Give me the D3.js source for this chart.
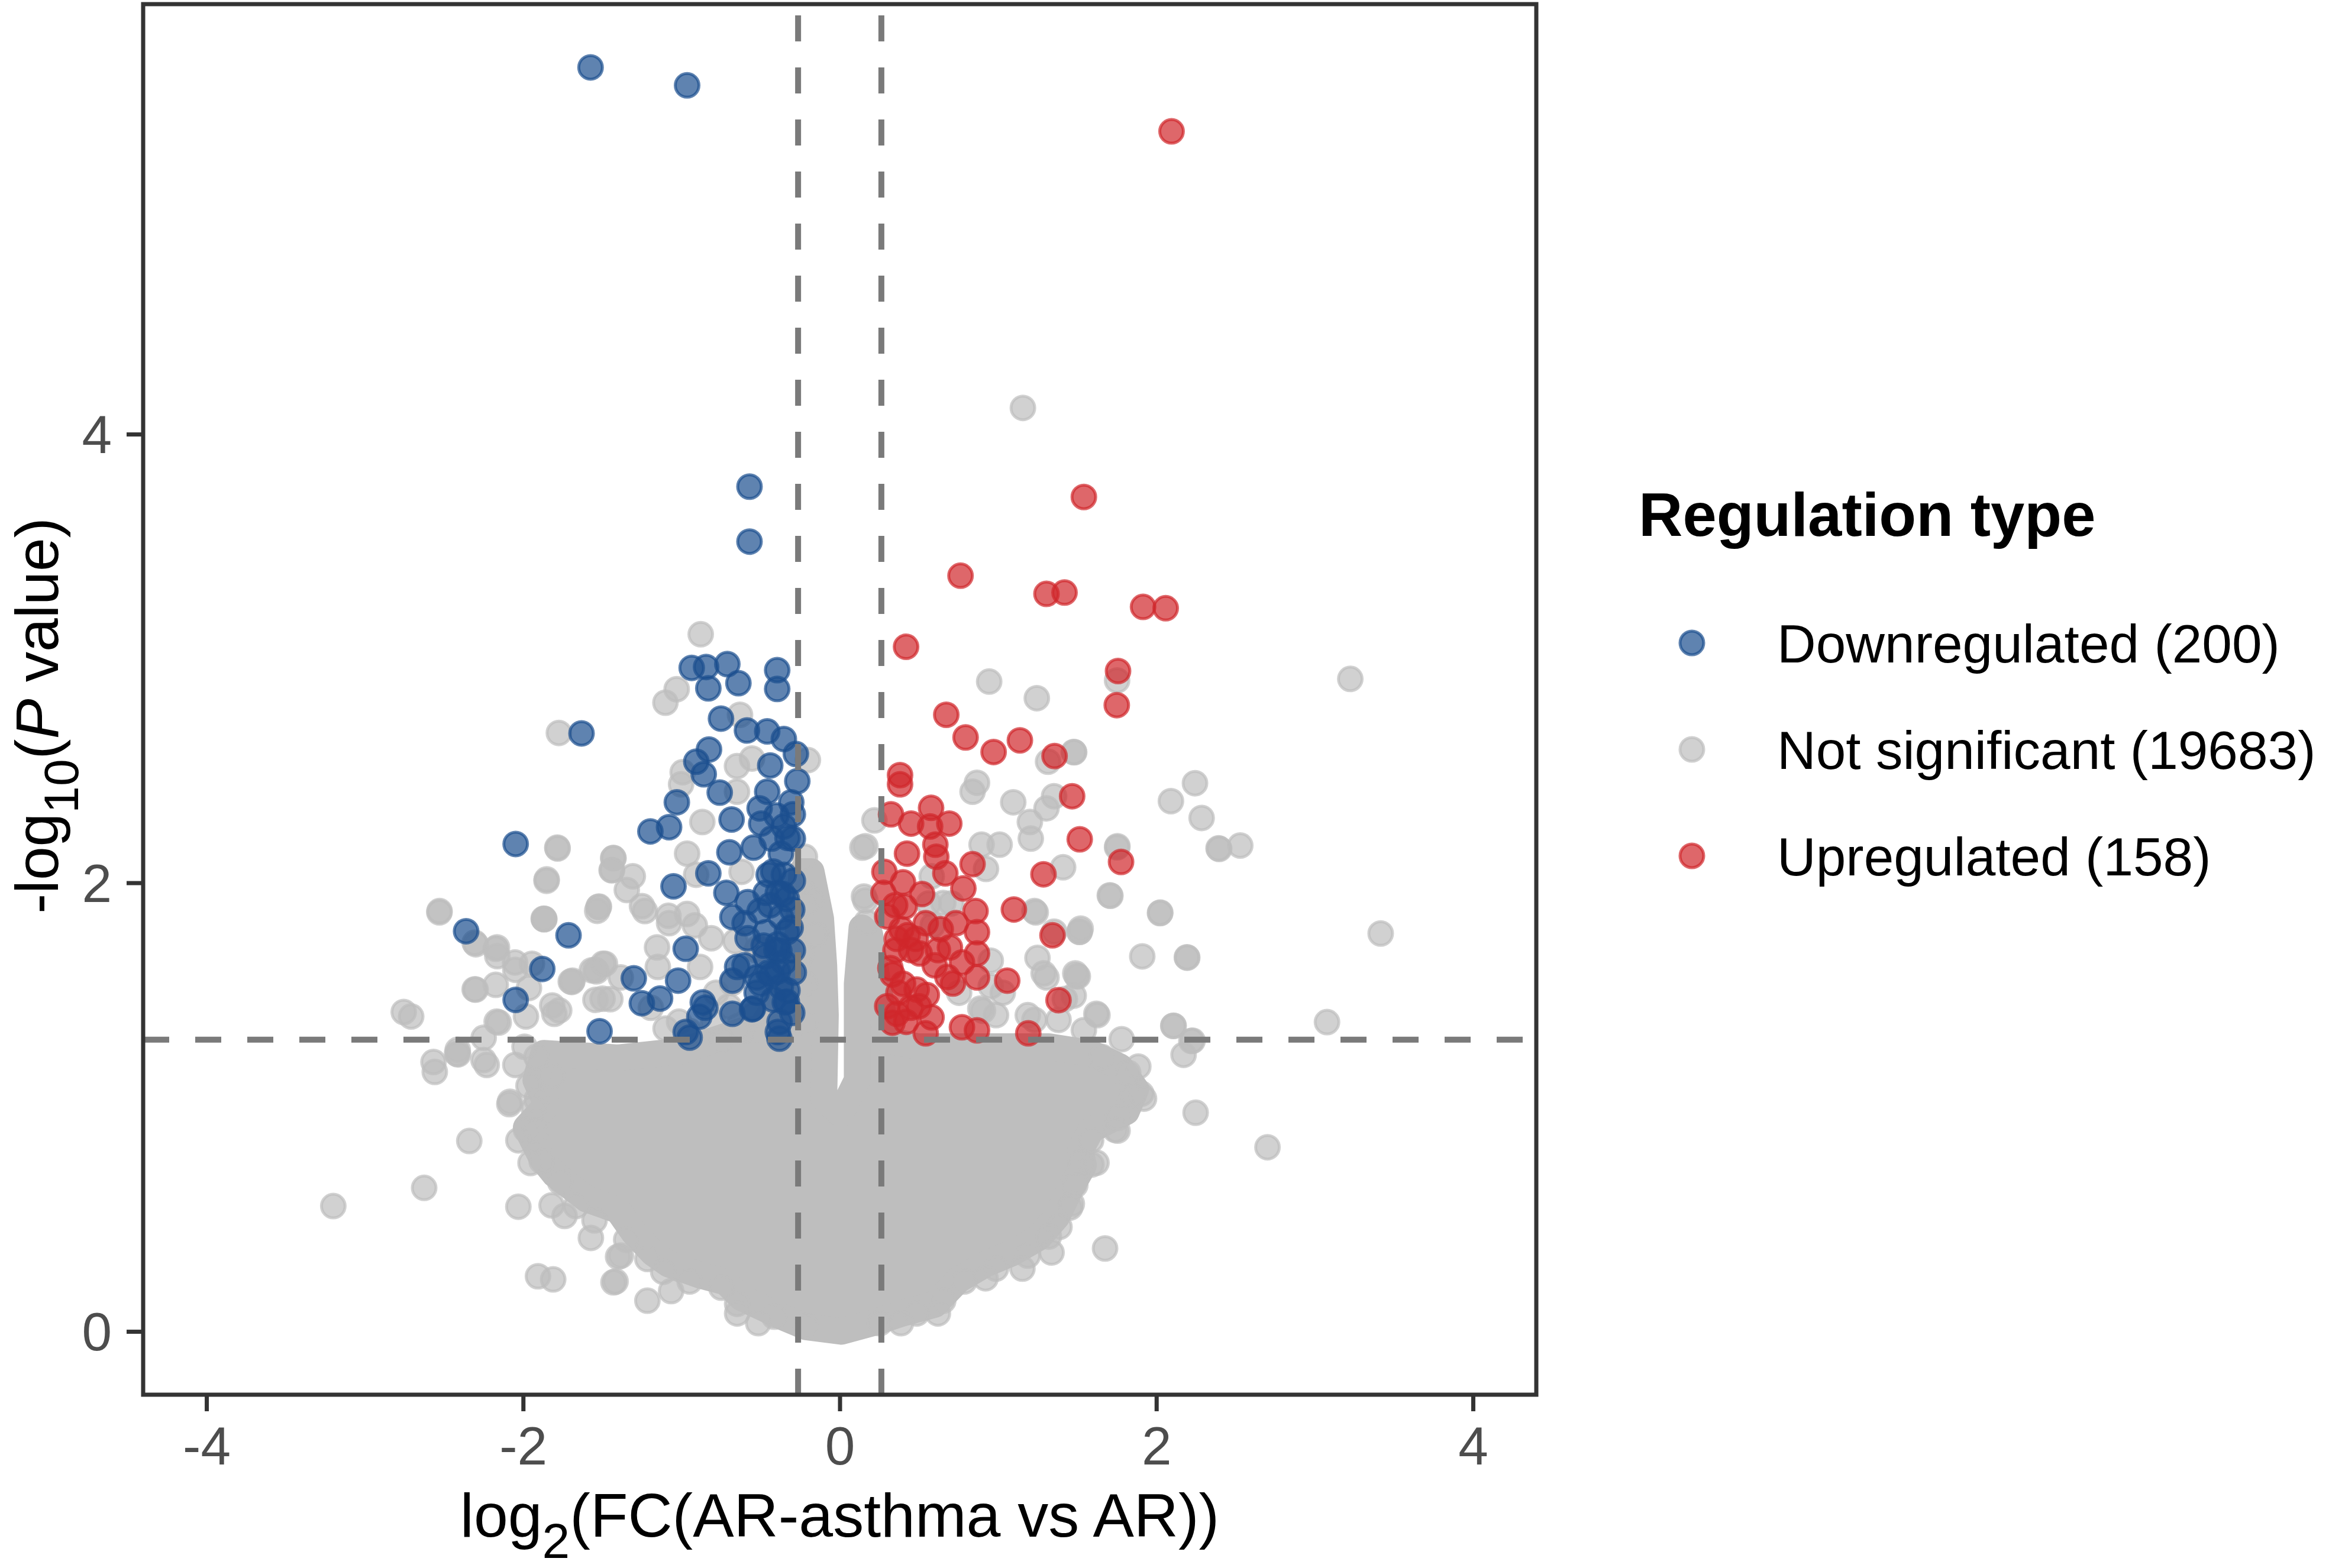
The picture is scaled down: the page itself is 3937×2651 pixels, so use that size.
<!DOCTYPE html>
<html>
<head>
<meta charset="utf-8">
<script src="https://cdn.jsdelivr.net/npm/d3@7"></script>
<style>
  html, body { margin: 0; padding: 0; background: #fff; }
  svg text { font-family: "Liberation Sans", Arial, Helvetica, sans-serif; }
</style>
</head>
<body>
<div id="chart"></div>
<script>
// Downregulated genes (log2FC, -log10 P)
const downX = [-1.574, -0.964, -0.570, -0.570,
  -1.631, -2.047, -2.360, -1.713, -1.879, -2.047, -1.517, -1.301, -1.050, -1.196, -1.078, -1.029, -0.826, -0.906, -0.859, -0.758,
  -0.683, -0.697, -0.750, -0.935, -0.844, -0.710, -0.830, -0.640, -0.395, -0.395, -0.586, -0.458, -0.353, -0.277, -0.439, -0.458,
  -0.268, -0.306, -0.296, -0.496, -0.430, -0.296, -0.544, -0.372, -0.830, -0.353, -0.391, -0.716, -0.582, -0.334, -0.506, -0.678,
  -0.372, -0.468, -0.582, -0.391, -0.973, -0.468, -0.353, -0.601, -0.430, -0.372, -1.021, -0.678, -0.525, -0.334, -0.849, -0.554,
  -0.678, -1.250, -1.135, -0.973, -0.887, -0.391, -0.468, -0.334, -0.391, -0.449, -0.296, -0.353, -0.506, -0.601, -0.525, -0.296,
  -0.948, -0.381, -0.865, -0.548, -0.347, -0.648, -0.381,
  -0.40, -0.33, -0.42, -0.30, -0.36, -0.44, -0.31, -0.40, -0.29, -0.45, -0.33, -0.42, -0.30, -0.38, -0.48, -0.50];
const downY = [5.635, 5.555, 3.766, 3.521,
  2.666, 2.173, 1.784, 1.766, 1.616, 1.478, 1.338, 1.574, 1.984, 2.229, 2.248, 2.359, 2.594, 2.540, 2.484, 2.402,
  2.282, 2.136, 2.732, 2.958, 2.962, 2.975, 2.867, 2.890, 2.948, 2.864, 2.679, 2.675, 2.641, 2.574, 2.523, 2.406,
  2.453, 2.359, 2.305, 2.264, 2.197, 2.197, 2.157, 2.130, 2.042, 2.036, 1.955, 1.955, 1.914, 1.928, 1.874, 1.847,
  1.847, 1.780, 1.753, 1.726, 1.706, 1.672, 1.645, 1.632, 1.591, 1.537, 1.564, 1.564, 1.510, 1.470, 1.443, 1.436,
  1.416, 1.463, 1.484, 1.335, 1.403, 1.335, 1.955, 1.780, 1.605, 2.036, 2.009, 2.251, 2.332, 1.820, 1.578, 1.699,
  1.310, 1.305, 1.467, 1.439, 1.467, 1.625, 1.696,
  2.30, 2.20, 2.05, 1.88, 1.95, 1.90, 1.80, 1.70, 1.60, 1.60, 1.52, 1.48, 1.42, 1.38, 1.72, 1.55];

// Upregulated genes
const upX = [2.096, 1.542, 0.763, 1.306, 1.420, 1.916, 2.059, 1.758, 1.750, 0.419, 0.673, 0.795, 0.972, 1.138, 1.357, 1.468,
  1.516, 1.777, 1.287, 1.100, 1.344, 0.381, 0.381, 0.324, 0.577, 0.451, 0.692, 0.571, 0.604, 0.425, 0.610, 0.282,
  0.667, 0.839, 0.276, 0.400, 0.781, 0.410, 0.858, 0.734, 0.638, 0.867, 0.390, 0.352, 0.505, 0.696, 0.867, 0.333,
  0.600, 0.715, 0.867, 1.058, 0.371, 0.486, 0.362, 0.543, 0.772, 0.867, 1.191, 1.382, 0.333, 0.448, 0.429, 0.543, 0.772,
  0.30, 0.35, 0.45, 0.32, 0.40, 0.30, 0.42, 0.50, 0.55, 0.48, 0.36, 0.52, 0.62, 0.68, 0.58];
const upY = [5.350, 3.720, 3.369, 3.288, 3.294, 3.230, 3.224, 2.944, 2.792, 3.052, 2.749, 2.648, 2.583, 2.635, 2.565, 2.386,
  2.194, 2.093, 2.038, 1.881, 1.766, 2.480, 2.439, 2.305, 2.334, 2.264, 2.264, 2.251, 2.170, 2.130, 2.116, 2.049,
  2.042, 2.083, 1.955, 2.002, 1.975, 1.894, 1.874, 1.820, 1.793, 1.780, 1.793, 1.699, 1.685, 1.712, 1.685, 1.591,
  1.632, 1.551, 1.578, 1.564, 1.510, 1.524, 1.416, 1.329, 1.356, 1.342, 1.329, 1.477, 1.376, 1.443, 1.766, 1.820, 1.645,
  1.85, 1.90, 1.70, 1.62, 1.55, 1.45, 1.38, 1.45, 1.50, 1.75, 1.75, 1.95, 1.70, 1.58, 1.40];

// Not significant genes that stand out from the dense cloud
const nsX = [1.157, 3.225, 3.417, 3.078, 2.702, -0.878, -1.774,
  1.752, 1.481, 2.244, 2.092, 2.286,
  0.944, 1.245, 1.478, 1.316, 0.867, 0.839, 1.096, 1.354, 1.306, 1.201, 1.207, 1.010, 0.896, 2.393, 2.530, 1.754,
  1.411, 1.706, 2.025, 1.911, 2.193, 1.516, 1.249, 1.230, 1.497, 1.621, 2.107, 2.221, 0.162, 0.219, 0.162, 0.924,
  0.562, 0.705, 0.581, 1.306, 1.478, 1.382, 1.030, 0.905, 1.230,
  1.752, 2.397, 1.710, 2.023, 1.514, 2.195, 1.504, 1.628, 2.109, 2.229, 2.172, 1.886, 1.781, 1.542, 1.905, 2.248,
  1.739, 1.590, 1.466, 1.676,
  -1.782, -1.852, -1.429, -1.438, -1.524, -2.529, -1.867, -2.173, -2.163, -2.306, -1.944, -2.049, -2.306, -2.173,
  -1.963, -1.692, -1.543, -1.495, -1.543, -2.754, -2.707, -2.154, -1.982, -1.772, -2.249, -2.411, -2.558, -2.230,
  -2.049, -1.991, -2.087, -2.340, -2.030, -1.953, -2.625, -3.199, -2.030, -1.820, -1.738, -1.572, -1.906, -1.810,
  -1.400, -1.429, -1.915, -1.982,
  -1.030, -1.101, -0.630, -0.649, -0.554, -0.992, -1.002, -0.649, -0.868, -1.784, -1.431, -1.441, -1.307, -1.851,
  -1.345, -1.521, -1.870, -2.528, -1.231, -0.964, -0.907, -0.620, -0.659, -0.525, -1.078, -0.964, -0.220, -0.220,
  -0.163, -0.201, 0.143, -2.299, -2.165, -2.051, -1.688, -1.536, -1.498, -1.383, -2.566, -2.413, -1.803, -1.193,
  -1.154, -0.811, -0.640, -0.220, -0.220, -0.239, -0.220,
  -2.083, -1.382, -1.416, -1.215, -1.065, -0.648, 0.620, 1.338, 1.922, 1.755, 1.622, 1.388, 1.154, 0.921, 0.387,
  -0.515, 1.522, 1.488, -1.866, -1.532, -2.300, -1.699, -1.566, -1.483, -1.816, -1.449, -2.167, -2.417, -2.250,
  -1.249, -1.082, -0.915, -0.882, -0.781, -1.015, -0.548, -1.149, -0.515, -0.681, -0.614, -0.147, -0.180, 0.654,
  0.587, 0.954, 0.954, 1.188, 0.987, 0.888, 0.754, 1.422, 1.288, 1.238, 1.355, 0.153, 0.170,
  // along the rim of the dense cloud
  -1.916, -1.883, -1.766, -1.666, -1.549, -1.349, -1.215, -1.115, -0.948, -0.748, -0.648, -0.414, -0.214, 0.253,
  0.487, 0.654, 0.787, 0.987, 1.188, 1.321, 1.455, 1.488, 1.522, 1.588, 1.755, 1.855, 1.822, 1.655, -1.916,
  -1.966, -1.933, -1.816, -0.95, -0.80, -0.70, -1.10, -0.75];
const nsY = [4.117, 2.909, 1.774, 1.379, 0.821, 3.108, 2.668,
  2.902, 2.582, 2.444, 2.364, 2.289,
  2.897, 2.823, 2.583, 2.540, 2.446, 2.406, 2.359, 2.386, 2.332, 2.271, 2.197, 2.170, 2.170, 2.154, 2.166, 2.163,
  2.069, 1.944, 1.867, 1.672, 1.668, 1.782, 1.665, 1.874, 1.585, 1.416, 1.362, 1.295, 2.163, 2.278, 1.921, 2.062,
  1.908, 1.908, 2.029, 1.578, 1.497, 1.389, 1.510, 1.430, 1.389,
  2.158, 2.151, 1.942, 1.865, 1.781, 1.666, 1.583, 1.410, 1.363, 1.296, 1.233, 1.181, 1.303, 1.343, 1.060, 0.975,
  0.899, 0.744, 0.569, 0.370,
  2.153, 2.009, 2.110, 2.057, 1.892, 1.868, 1.837, 1.706, 1.673, 1.733, 1.639, 1.612, 1.525, 1.545,
  1.531, 1.558, 1.612, 1.639, 1.478, 1.424, 1.404, 1.377, 1.404, 1.431, 1.309, 1.235, 1.157, 1.188,
  1.188, 1.269, 1.013, 0.849, 0.852, 0.751, 0.640, 0.559, 0.556, 0.562, 0.515, 0.417, 0.246, 0.232,
  0.333, 0.219, 1.033, 0.899,
  2.863, 2.803, 2.749, 2.520, 2.554, 2.493, 2.439, 2.406, 2.271, 2.157, 2.110, 2.056, 2.029, 2.015,
  1.968, 1.894, 1.840, 1.874, 1.874, 2.130, 2.036, 2.049, 1.739, 1.699, 1.820, 1.861, 2.116, 1.901,
  1.766, 2.547, 2.157, 1.726, 1.712, 1.645, 1.564, 1.605, 1.483, 1.578, 1.201, 1.255, 1.416, 1.443,
  1.712, 1.753, 1.362, 1.376, 1.551, 1.685, 1.955,
  1.024, 0.338, 0.223, 0.137, 0.180, 0.080, 0.080, 0.352, 1.038, 0.895, 0.752, 0.466, 0.280, 0.237, 0.037,
  0.037, 1.796, 1.596, 1.839, 1.875, 1.524, 1.560, 1.610, 1.639, 1.453, 1.481, 1.381, 1.238, 1.210,
  1.896, 1.853, 1.810, 1.625, 1.510, 1.381, 1.410, 1.625, 1.710, 1.553, 1.339, 1.768, 1.925, 1.910,
  1.810, 1.653, 1.539, 1.410, 1.410, 1.439, 1.510, 1.482, 1.596, 1.868, 1.782, 1.939, 1.825,
  0.895, 0.759, 0.666, 0.559, 0.495, 0.409, 0.323, 0.266, 0.223, 0.195, 0.123, 0.066, 0.023, 0.037,
  0.080, 0.137, 0.223, 0.280, 0.338, 0.423, 0.552, 0.652, 0.752, 0.852, 0.952, 1.052, 1.153, 1.224, 1.224,
  1.095, 0.995, 1.138, 1.34, 1.38, 1.45, 1.35, 1.30];

// Outline (point centres) of the solid mass of not significant genes
const coreX = [-1.87, -1.92, -1.85, -1.98, -1.88, -1.80, -1.60, -1.40, -1.30, -1.18, -1.08, -0.88, -0.72, -0.62,
  -0.38, -0.21, 0.01, 0.22, 0.39, 0.60, 0.75, 0.92, 1.09, 1.26, 1.37, 1.46, 1.54, 1.52, 1.59, 1.81, 1.87,
  1.77, 1.59, 1.32, 0.99, 0.49, 0.30, 0.19, 0.14, 0.11, 0.11, 0.005, -0.10, -0.09, -0.10, -0.12, -0.18,
  -0.24, -0.28, -0.50, -0.62, -1.00, -1.40];
const coreY = [1.24, 1.12, 1.01, 0.91, 0.77, 0.70, 0.59, 0.54, 0.44, 0.35, 0.30, 0.25, 0.22, 0.15,
  0.07, 0.02, 0.00, 0.04, 0.08, 0.12, 0.23, 0.30, 0.35, 0.42, 0.51, 0.64, 0.74, 0.81, 0.90, 0.98, 1.08,
  1.18, 1.24, 1.27, 1.27, 1.27, 1.30, 1.77, 1.80, 1.55, 1.12, 0.97, 1.04, 1.41, 1.63, 1.84, 2.05,
  2.05, 1.60, 1.35, 1.34, 1.25, 1.22];

const groupNames = ["Downregulated", "Not significant", "Upregulated"];
const groupCounts = [200, 19683, 158];
const groupColors = ["#1B4F8F", "#BEBEBE", "#D0262B"];

const xTicks = [-4, -2, 0, 2, 4];
const yTicks = [0, 2, 4];
const fcCut = 0.263;   // log2(1.2)
const pCut = 1.301;    // -log10(0.05)

const W = 3937, H = 2651;
const panel = { left: 242, right: 2597, top: 7, bottom: 2358 };

const svg = d3.select('#chart').append('svg')
    .attr('width', W)
    .attr('height', H)
    .attr('viewBox', `0 0 ${W} ${H}`);

svg.append('rect').attr('width', W).attr('height', H).attr('fill', '#fff');

const x = d3.scaleLinear().domain([-4.4, 4.4]).range([panel.left, panel.right]);
const y = d3.scaleLinear().domain([-0.282, 5.917]).range([panel.bottom, panel.top]);

svg.append('clipPath').attr('id', 'panel-clip')
    .append('rect')
    .attr('x', panel.left).attr('y', panel.top)
    .attr('width', panel.right - panel.left)
    .attr('height', panel.bottom - panel.top);

const plot = svg.append('g').attr('clip-path', 'url(#panel-clip)');

// dense cloud of non-significant genes
const core = d3.zip(coreX, coreY);
plot.append('path')
    .datum(core)
    .attr('d', d3.line().x(d => x(d[0])).y(d => y(d[1])).curve(d3.curveLinearClosed))
    .attr('fill', groupColors[1])
    .attr('stroke', groupColors[1])
    .attr('stroke-width', 45)
    .attr('stroke-linejoin', 'round');

function drawPoints(xs, ys, color) {
    plot.append('g')
        .selectAll('circle')
        .data(d3.zip(xs, ys))
        .enter()
        .append('circle')
        .attr('cx', d => x(d[0]))
        .attr('cy', d => y(d[1]))
        .attr('r', 20)
        .attr('fill', color)
        .attr('fill-opacity', 0.7)
        .attr('stroke', color)
        .attr('stroke-opacity', 0.7)
        .attr('stroke-width', 5);
}

drawPoints(nsX, nsY, groupColors[1]);
drawPoints(downX, downY, groupColors[0]);
drawPoints(upX, upY, groupColors[2]);

// threshold lines
const dash = { stroke: '#7A7A7A', 'stroke-width': 10, 'stroke-dasharray': '44,44' };
[-fcCut, fcCut].forEach(v => {
    const l = plot.append('line')
        .attr('x1', x(v)).attr('x2', x(v))
        .attr('y1', panel.bottom).attr('y2', panel.top);
    Object.entries(dash).forEach(([k, val]) => l.attr(k, val));
});
const hl = plot.append('line')
    .attr('x1', panel.left).attr('x2', panel.right)
    .attr('y1', y(pCut)).attr('y2', y(pCut));
Object.entries(dash).forEach(([k, val]) => hl.attr(k, val));

// axes
const xAxis = svg.append('g')
    .attr('transform', `translate(0,${panel.bottom})`)
    .call(d3.axisBottom(x).tickValues(xTicks).tickSize(28).tickPadding(25).tickFormat(d3.format('d')));
const yAxis = svg.append('g')
    .attr('transform', `translate(${panel.left},0)`)
    .call(d3.axisLeft(y).tickValues(yTicks).tickSize(28).tickPadding(25).tickFormat(d3.format('d')));

[xAxis, yAxis].forEach(a => {
    a.select('.domain').remove();
    a.selectAll('.tick line').attr('stroke', '#333333').attr('stroke-width', 7);
    a.selectAll('.tick text')
        .attr('fill', '#4D4D4D')
        .style('font-size', '91px')
        .style('font-family', '"Liberation Sans", Arial, Helvetica, sans-serif');
});
xAxis.selectAll('.tick text').text(d => d < 0 ? '-' + Math.abs(d) : d);
yAxis.selectAll('.tick text').attr('dy', '0.35em');

// panel border
svg.append('rect')
    .attr('x', panel.left).attr('y', panel.top)
    .attr('width', panel.right - panel.left)
    .attr('height', panel.bottom - panel.top)
    .attr('fill', 'none')
    .attr('stroke', '#333333')
    .attr('stroke-width', 7);

// x axis title
const xt = svg.append('text')
    .attr('x', (panel.left + panel.right) / 2)
    .attr('y', 2598)
    .attr('text-anchor', 'middle')
    .style('font-size', '104px')
    .attr('fill', '#000');
xt.append('tspan').text('log');
xt.append('tspan').attr('dy', 36).style('font-size', '84px').text('2');
xt.append('tspan').attr('dy', -36).text('(FC(AR-asthma vs AR))');

// y axis title
const yt = svg.append('text')
    .attr('transform', 'translate(98,1210) rotate(-90)')
    .attr('text-anchor', 'middle')
    .style('font-size', '102px')
    .attr('fill', '#000');
yt.append('tspan').text('-log');
yt.append('tspan').attr('dy', 34).style('font-size', '82px').text('10');
yt.append('tspan').attr('dy', -34).text('(');
yt.append('tspan').style('font-style', 'italic').text('P');
yt.append('tspan').text(' value)');

// legend
const legend = svg.append('g');
legend.append('text')
    .attr('x', 2770)
    .attr('y', 906)
    .style('font-size', '103px')
    .style('font-weight', 'bold')
    .attr('fill', '#000')
    .text('Regulation type');

groupNames.forEach((name, i) => {
    const ky = 1087 + i * 180;
    legend.append('circle')
        .attr('cx', 2860)
        .attr('cy', ky)
        .attr('r', 20)
        .attr('fill', groupColors[i])
        .attr('fill-opacity', 0.7)
        .attr('stroke', groupColors[i])
        .attr('stroke-opacity', 0.7)
        .attr('stroke-width', 5);
    legend.append('text')
        .attr('x', 3004)
        .attr('y', ky + 33)
        .style('font-size', '91px')
        .attr('fill', '#000')
        .text(`${name} (${groupCounts[i]})`);
});
</script>
</body>
</html>
